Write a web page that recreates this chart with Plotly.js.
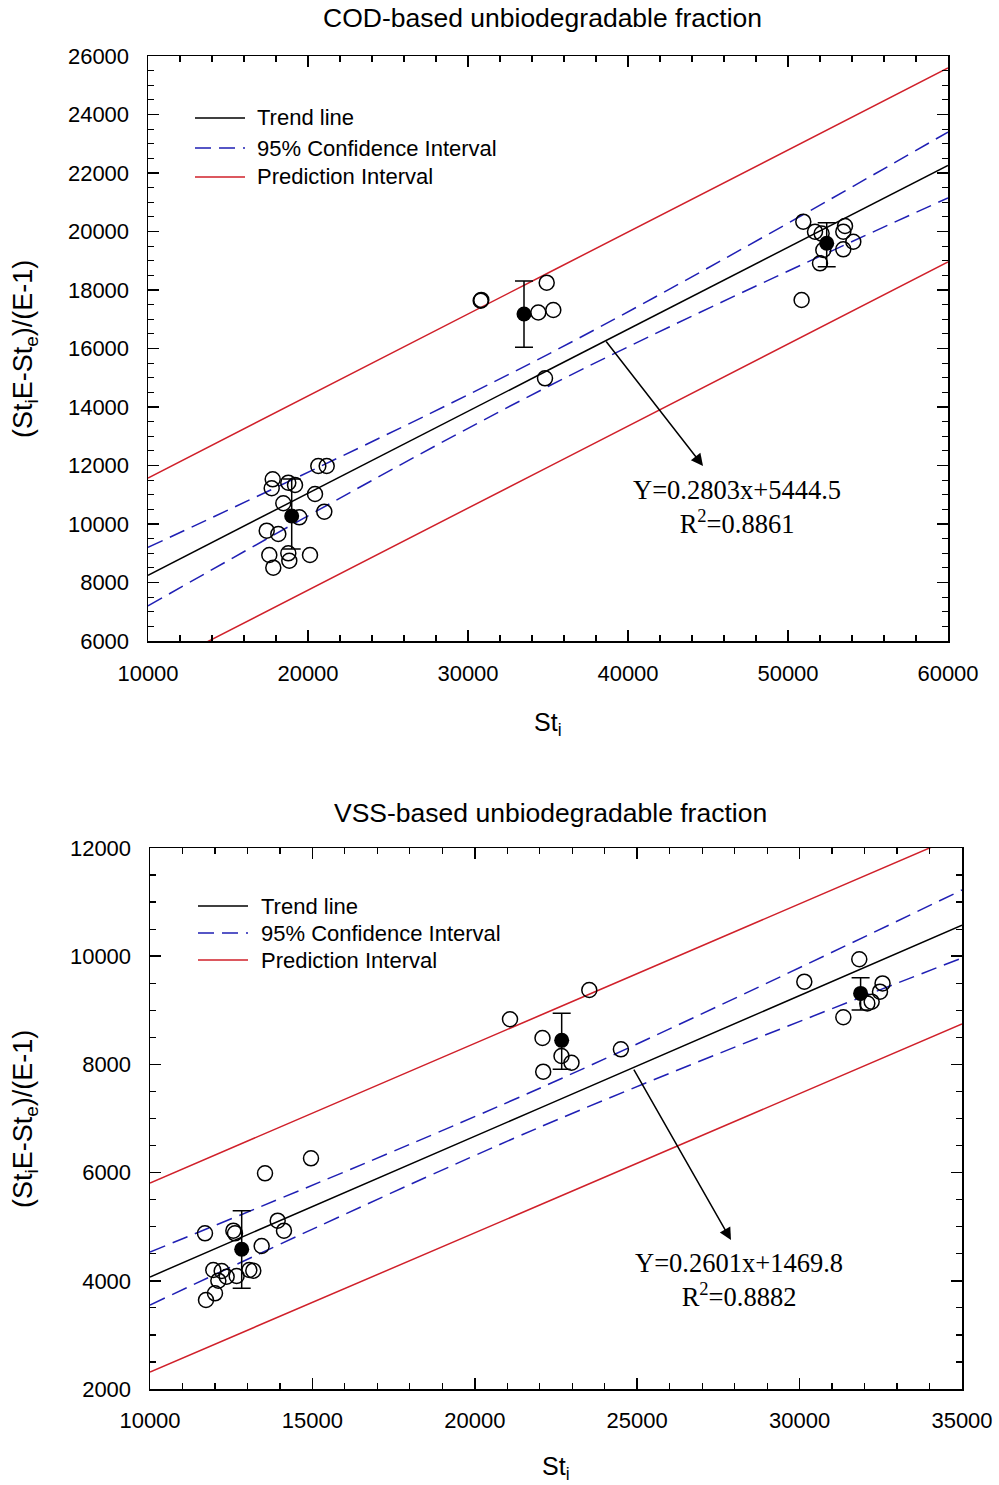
<!DOCTYPE html>
<html>
<head>
<meta charset="utf-8">
<script src="https://cdn.plot.ly/plotly-3.0.1.min.js"></script>
<style>html,body{margin:0;padding:0;background:#fff;}#chart{width:999px;height:1485px;}</style>
</head>
<body>
<div id="chart"></div>
<script>
// ---------- COD-based (top) data ----------
const codX = [20644, 21169, 17794, 17731, 18769, 19188, 20438, 18456, 21019, 19456, 17419, 18144, 17581, 18769, 18831, 20125, 17831,
              30794, 30830, 34919, 34394, 35331, 34813,
              50956, 51688, 52100, 53563, 53456, 54081, 53456, 52206, 52000, 50850];
const codY = [11983, 11983, 11528, 11221, 11412, 11333, 11026, 10708, 10421, 10229, 9771, 9658, 8940, 8998, 8745, 8940, 8506,
              17634, 17660, 18250, 17231, 17316, 14981,
              20335, 19993, 19930, 20188, 19993, 19651, 19391, 19368, 18912, 17658];
const codMeanX = [18981, 33500, 52419];
const codMeanY = [10274, 17180, 19596];
const codErrPlus = [1264, 1128, 705];
const codErrMinus = [1129, 1139, 798];
const codLineX = [10000, 35000, 60000];
const codTrend = [8247.5, 15255, 22262.5];
const codCIUpper = [9200, 15800, 23400];
const codCILower = [7200, 14700, 21150];
const codPIUpper = [11573, 18581, 25590];
const codPILower = [4934, 11946, 18957];

// ---------- VSS-based (bottom) data ----------
const vssX = [14957, 13541, 11693, 12566, 12617, 13931, 14125, 13438, 11949, 12207, 12104, 12360, 12667, 13057, 13180, 12001, 11724,
              21084, 23525, 22084, 22669, 22977, 22106, 24498,
              30145, 31837, 31346, 32554, 32475, 32219, 32084];
const vssY = [6264, 5987, 4878, 4926, 4878, 5111, 4926, 4643, 4200, 4181, 4002, 4075, 4089, 4200, 4187, 3769, 3645,
              8834, 9375, 8488, 8155, 8031, 7865, 8279,
              9529, 9943, 8871, 9497, 9344, 9159, 9128];
const vssMeanX = [12823, 22675, 31878];
const vssMeanY = [4582, 8445, 9312];
const vssErrPlus = [715, 501, 291];
const vssErrMinus = [721, 536, 306];
const vssLineX = [10000, 22000, 35000];
const vssTrend = [4070.8, 7191.5, 10573.3];
const vssCIUpper = [4532, 7560, 11224];
const vssCILower = [3553, 6840, 9967];
const vssPIUpper = [5808, 8904, 12258];
const vssPILower = [2314, 5402, 8747];

// ---------- texts ----------
const titles = ["COD-based unbiodegradable fraction", "VSS-based unbiodegradable fraction"];
const eqTexts = ["Y=0.2803x+5444.5<br>R<sup>2</sup>=0.8861", "Y=0.2601x+1469.8<br>R<sup>2</sup>=0.8882"];
const legendNames = ["Trend line", "95% Confidence Interval", "Prediction Interval"];
const xTitle = "St<sub>i</sub>";
const yTitle = "(St<sub>i</sub>E-St<sub>e</sub>)/(E-1)";

const BLUE = '#1f1fb4', RED = '#d0202a', SANS = 'Liberation Sans, Arial, sans-serif', SERIF = 'Liberation Serif, Times New Roman, serif';
const legendColors = ['#000', BLUE, RED];
const legendDash = ['solid', '16px,8px', 'solid'];

function lineTraces(xa, ya, lx, trend, ciU, ciL, piU, piL) {
  const t = (y, c, d) => ({x: lx, y: y, xaxis: xa, yaxis: ya, mode: 'lines', showlegend: false,
    line: {color: c, width: 1.5, dash: d, shape: 'spline', smoothing: 1}});
  return [t(trend, '#000', 'solid'), t(ciU, BLUE, '16px,8px'), t(ciL, BLUE, '16px,8px'), t(piU, RED, 'solid'), t(piL, RED, 'solid')];
}
function pointTraces(xa, ya, px, py, mx, my, ep, em) {
  return [
    {x: px, y: py, xaxis: xa, yaxis: ya, mode: 'markers', showlegend: false,
     marker: {symbol: 'circle-open', size: 15, color: '#000', line: {width: 1.5, color: '#000'}}},
    {x: mx, y: my, xaxis: xa, yaxis: ya, mode: 'markers', showlegend: false,
     marker: {symbol: 'circle', size: 15, color: '#000'},
     error_y: {type: 'data', symmetric: false, array: ep, arrayminus: em, color: '#000', thickness: 1.5, width: 9}}
  ];
}

const data = [].concat(
  lineTraces('x', 'y', codLineX, codTrend, codCIUpper, codCILower, codPIUpper, codPILower),
  pointTraces('x', 'y', codX, codY, codMeanX, codMeanY, codErrPlus, codErrMinus),
  lineTraces('x2', 'y2', vssLineX, vssTrend, vssCIUpper, vssCILower, vssPIUpper, vssPILower),
  pointTraces('x2', 'y2', vssX, vssY, vssMeanX, vssMeanY, vssErrPlus, vssErrMinus)
);

function axisBase(extra) {
  return Object.assign({
    showline: true, linecolor: '#000', linewidth: 1.5, mirror: 'allticks',
    ticks: 'inside', ticklen: 11, tickwidth: 1.5, tickcolor: '#000',
    showgrid: false, zeroline: false, tickformat: 'd', automargin: false,
    tickfont: {family: SANS, size: 22, color: '#000'}
  }, extra);
}
function minor(dt) { return {ticks: 'inside', ticklen: 6, tickwidth: 1.2, tickcolor: '#000', dtick: dt, showgrid: false}; }

// legend drawn in paper space (px positions converted)
const W = 999, H = 1485;
const shapes = [], annotations = [];
function addLegend(x0, x1, tx, rows) {
  rows.forEach((ry, i) => {
    shapes.push({type: 'line', xref: 'paper', yref: 'paper', x0: x0 / W, x1: x1 / W, y0: 1 - ry / H, y1: 1 - ry / H,
                 line: {color: legendColors[i], width: 1.5, dash: legendDash[i]}});
    annotations.push({text: legendNames[i], xref: 'paper', yref: 'paper', x: tx / W, y: 1 - ry / H, showarrow: false,
                      xanchor: 'left', yanchor: 'middle', font: {family: SANS, size: 22, color: '#000'}});
  });
}
addLegend(195, 245, 255, [118, 148, 177]);
addLegend(198, 248, 259, [906, 933, 960]);

annotations.push(
  {text: titles[0], xref: 'paper', yref: 'paper', x: 542/W, y: 1 - 18/H, showarrow: false,
   font: {family: SANS, size: 26.5, color: '#000'}, xanchor: 'center', yanchor: 'middle'},
  {text: titles[1], xref: 'paper', yref: 'paper', x: 550/W, y: 1 - 813/H, showarrow: false,
   font: {family: SANS, size: 26.5, color: '#000'}, xanchor: 'center', yanchor: 'middle'},
  {text: xTitle, xref: 'paper', yref: 'paper', x: 548/W, y: 1 - 724/H, showarrow: false,
   font: {family: SANS, size: 25, color: '#000'}, xanchor: 'center', yanchor: 'middle'},
  {text: xTitle, xref: 'paper', yref: 'paper', x: 556/W, y: 1 - 1468/H, showarrow: false,
   font: {family: SANS, size: 25, color: '#000'}, xanchor: 'center', yanchor: 'middle'},
  {text: yTitle, xref: 'paper', yref: 'paper', x: 25/W, y: 1 - 349/H, showarrow: false, textangle: -90,
   font: {family: SANS, size: 27, color: '#000'}, xanchor: 'center', yanchor: 'middle'},
  {text: yTitle, xref: 'paper', yref: 'paper', x: 25/W, y: 1 - 1119/H, showarrow: false, textangle: -90,
   font: {family: SANS, size: 27, color: '#000'}, xanchor: 'center', yanchor: 'middle'},
  // arrows
  {xref: 'x', yref: 'y', axref: 'x', ayref: 'y', x: 44688, y: 11983, ax: 38563, ay: 16291, text: '',
   showarrow: true, arrowhead: 2, arrowsize: 1.6, arrowwidth: 1.5, arrowcolor: '#000'},
  {xref: 'x2', yref: 'y2', axref: 'x2', ayref: 'y2', x: 27888, y: 4754, ax: 24871, ay: 7933, text: '',
   showarrow: true, arrowhead: 2, arrowsize: 1.6, arrowwidth: 1.5, arrowcolor: '#000'},
  // equations
  {text: eqTexts[0], xref: 'x', yref: 'y', x: 46813, y: 10598, showarrow: false, align: 'center',
   font: {family: SERIF, size: 26.5, color: '#000'}},
  {text: eqTexts[1], xref: 'x2', yref: 'y2', x: 28134, y: 4006, showarrow: false, align: 'center',
   font: {family: SERIF, size: 26.5, color: '#000'}}
);

const layout = {
  width: W, height: H,
  margin: {l: 0, r: 0, t: 0, b: 0},
  paper_bgcolor: '#fff', plot_bgcolor: '#fff',
  showlegend: false,
  xaxis: axisBase({domain: [148/W, 948/W], range: [10000, 60000], dtick: 10000, tick0: 10000,
                   minor: minor(2000), anchor: 'y', ticklabelstandoff: 12}),
  yaxis: axisBase({domain: [1 - 641/H, 1 - 56/H], range: [6000, 26000], dtick: 2000, tick0: 6000,
                   minor: minor(500), anchor: 'x', ticklabelstandoff: 13}),
  xaxis2: axisBase({domain: [150/W, 962/W], range: [10000, 35000], dtick: 5000, tick0: 10000,
                   minor: minor(1000), anchor: 'y2', ticklabelstandoff: 11}),
  yaxis2: axisBase({domain: [1 - 1389/H, 1 - 848/H], range: [2000, 12000], dtick: 2000, tick0: 2000,
                   minor: minor(500), anchor: 'x2', ticklabelstandoff: 13}),
  shapes: shapes,
  annotations: annotations
};

Plotly.newPlot('chart', data, layout, {staticPlot: true, displayModeBar: false});
</script>
</body>
</html>
